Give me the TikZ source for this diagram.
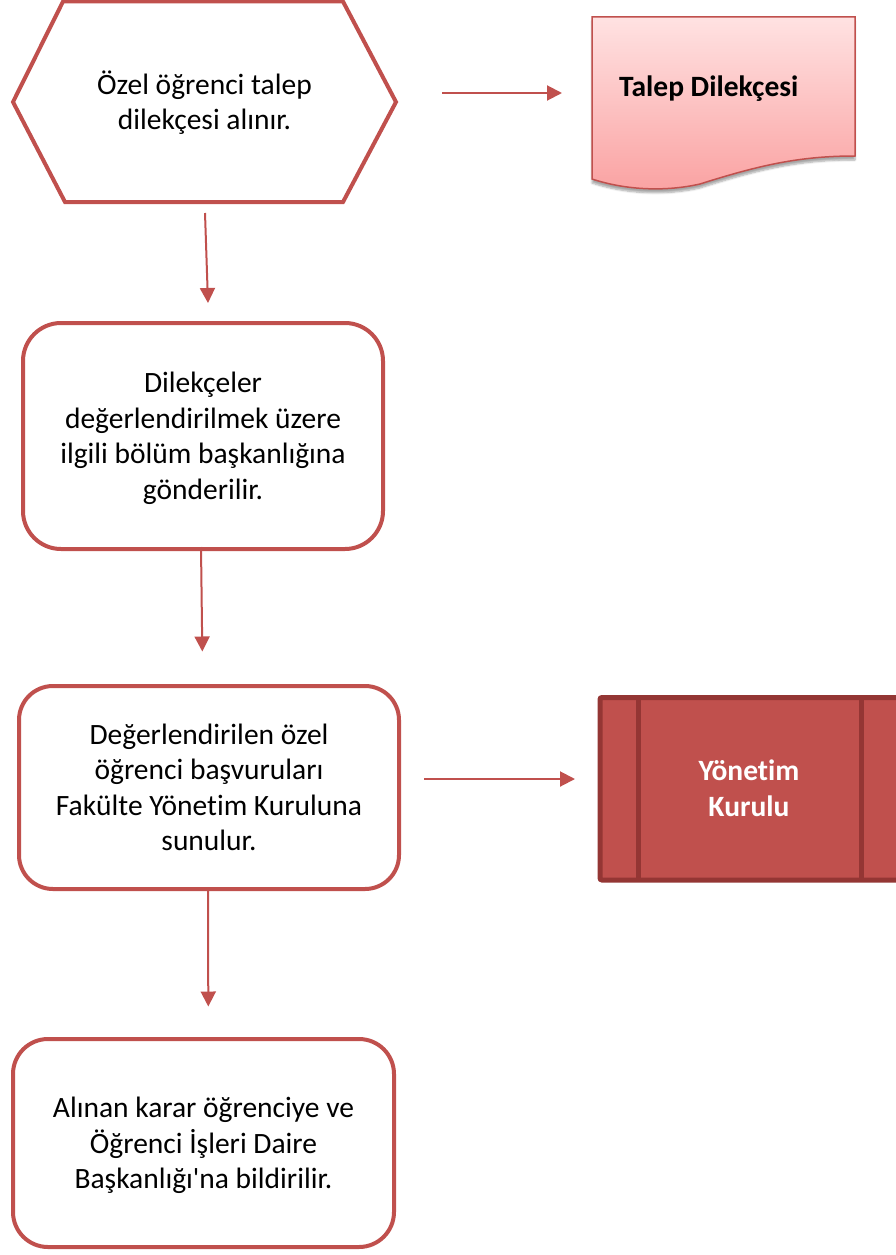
\documentclass[tikz,border=0pt]{standalone}
\usepackage{fontspec}
\setmainfont{Carlito}[Ligatures={NoCommon,NoDiscretionary,NoRare}]
\usetikzlibrary{arrows.meta,shadows.blur}

\definecolor{flowred}{HTML}{C0504D}
\definecolor{flowdark}{HTML}{943634}
\definecolor{docTop}{RGB}{255,226,226}
\definecolor{docBottom}{RGB}{250,162,162}

% strut on the first line that sets the text slightly below the box centre
\newcommand\firststrut{\rule[-10.65pt]{0pt}{41.65pt}}

\tikzset{
  bodytext/.style={font=\fontsize{29.5}{35.5}\selectfont, align=center, text=black},
  stepbox/.style={draw=flowred, line width=4pt, fill=white, rounded corners=#1,
                  bodytext, inner sep=0pt},
  flow/.style={draw=flowred, line width=2pt,
               -{Triangle[length=15pt,width=15pt]}},
}

\begin{document}
\begin{tikzpicture}[x=1pt,y=-1pt]
\useasboundingbox (0,0) rectangle (896,1255);

% preparation (hexagon) step
\draw[flowred, line width=4pt, line join=miter]
  (13,102) -- (63,1.5) -- (343,1.5) -- (396,102) -- (343,202) -- (65,202) -- cycle;
\node[bodytext] (hex) at (204.5,105)
  {\strut Özel öğrenci talep\\dilekçesi alınır.\strut};

% document symbol
\draw[draw=flowred, line width=1.5pt, top color=docTop, bottom color=docBottom,
      blur shadow={shadow xshift=0pt, shadow yshift=-4pt, shadow blur steps=6, shadow opacity=35}]
  (592,17) -- (855,17) -- (855,156)
  .. controls (800,156) and (760,165) .. (700,184)
  .. controls (665,192) and (625,190) .. (592,179) -- cycle;
\node[anchor=base west, inner sep=0pt, font=\fontsize{29.5}{35.5}\selectfont\bfseries]
  (doc) at (619,96.7) {Talep Dilekçesi};

% process steps
\node[stepbox=38pt, minimum width=360pt, minimum height=226pt] (s2) at (203,436)
  {\firststrut Dilekçeler\\değerlendirilmek üzere\\ilgili bölüm başkanlığına\\gönderilir.\strut};
\node[stepbox=34pt, minimum width=380pt, minimum height=203pt] (s3) at (209,787.5)
  {\firststrut Değerlendirilen özel\\öğrenci başvuruları\\Fakülte Yönetim Kuruluna\\sunulur.\strut};
\node[stepbox=35pt, minimum width=381pt, minimum height=208pt] (s4) at (203.5,1143)
  {\firststrut Alınan karar öğrenciye ve\\Öğrenci İşleri Daire\\Başkanlığı\textquotesingle na bildirilir.\strut};

% predefined process box
\draw[fill=flowred, draw=flowdark, line width=5pt, rounded corners=2pt]
  (600,697.5) rectangle (910,880);
\draw[flowdark, line width=5pt] (638,697.5) -- (638,880);
\draw[flowdark, line width=5pt] (861,697.5) -- (861,880);
\node[bodytext, text=white, font=\fontsize{29.5}{35.7}\selectfont\bfseries] (board) at (749,791.7)
  {\strut Yönetim\\Kurulu\strut};

% connector end points
\coordinate (a1s) at (442,93);   \coordinate (a1e) at (562,93);
\coordinate (a2s) at (205,213);  \coordinate (a2e) at (208,303);
\coordinate (a3s) at (201,547);  \coordinate (a3e) at (202.3,651.5);
\coordinate (a4s) at (424,779);  \coordinate (a4e) at (575,779);
\coordinate (a5s) at (208,890);  \coordinate (a5e) at (208.3,1006.5);

\draw[flow] (a1s) -- (a1e);
\draw[flow] (a2s) -- (a2e);
\draw[flow] (a3s) -- (a3e);
\draw[flow] (a4s) -- (a4e);
\draw[flow] (a5s) -- (a5e);
\end{tikzpicture}
\end{document}
